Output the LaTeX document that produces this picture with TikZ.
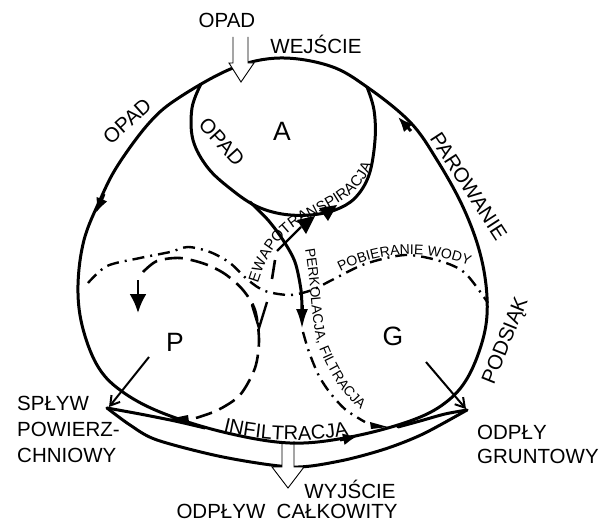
\documentclass[tikz,border=0pt]{standalone}
\usepackage{fontspec}
\setmainfont{Liberation Sans}
\usetikzlibrary{arrows.meta,decorations.text}
\newcommand{\curvefont}{\fontsize{14}{14}\selectfont}
\newcommand{\etfont}{\fontsize{15}{15}\selectfont}
\newcommand{\infifont}{\fontsize{20}{20}\selectfont}
\begin{document}
\begin{tikzpicture}[x=1pt,y=-1pt,
  thickline/.style={line width=3pt, line join=round, line cap=round},
  longdash/.style={line width=2.6pt, dash pattern=on 18pt off 8pt},
  dashdotline/.style={line width=2.4pt, dash pattern=on 12pt off 6pt on 2pt off 6pt},
  hollowline/.style={line width=0.9pt, line join=miter},
  biglabel/.style={font=\fontsize{20.5}{20.5}\selectfont, inner sep=0pt, text height=14.7pt, text depth=0pt},
  letterlabel/.style={font=\fontsize{26.5}{26.5}\selectfont, inner sep=0pt},
  headtip/.style={-{Latex[length=15pt,width=12pt]}, line width=3pt},
  openarrow/.style={-{Straight Barb[length=9pt,width=11pt]}, line width=2pt},
]
\useasboundingbox (0,0) rectangle (602,524);

% outer loop
\draw[thickline] plot[smooth cycle, tension=0.6] coordinates {(280,58) (330,66) (367,87) (410,122) (437,160) (463,207) (480,253) (487,297) (484,335) (468,377) (445,403) (410,421) (350,437) (290,443) (223,432) (160,412) (120,390) (97,365) (82,325) (78,285) (84,240) (100,200) (118,165) (150,122) (180,97) (233,68)};

% A loop lower boundary
\draw[thickline] plot[smooth, tension=0.6] coordinates {(201,84) (192,108) (193,140) (208,168) (232,190) (256,206) (282,214) (310,215) (335,210) (355,198) (369,175) (375,140) (374,110) (367,87)};

% branch to perkolacja
\draw[thickline] plot[smooth] coordinates {(250,202) (268,220) (283,240) (295,262) (301,290) (302,312)};
\coordinate (perkA) at (302,305);
\coordinate (perkB) at (302,329);
\draw[-{Latex[length=20pt,width=12pt]}, line width=3pt] (perkA) -- (perkB);
\draw[dashdotline] plot[smooth] coordinates {(303,332) (309,352) (319,376) (331,394) (346,410) (365,422)};
\fill (370,422) -- (388,427) -- (371,429) -- cycle;

% evapotranspiration stroke and heads
\draw[line width=2.4pt] (277,251) -- (301,227);
\fill (297,220) -- (315,216) -- (306,234) -- cycle;
\fill (319,208) -- (337,205) -- (328,221) -- cycle;

% dash-dot curve (pobieranie wody)
\draw[dashdotline] plot[smooth] coordinates {(88,283) (107,266) (140,258) (170,252) (188,247) (210,252) (230,263) (248,280) (265,291) (290,295) (312,290) (332,280) (365,264) (405,255) (440,261) (465,273) (488,303)};

% dashed P circle
\draw[longdash] plot[smooth] coordinates {(143,272) (157,261) (180,258) (205,264) (225,274) (243,290) (255,310) (259,340) (255,368) (240,395) (218,410) (196,418)};
\fill (169,419) -- (188,415) -- (189,422) -- cycle;
\draw[line width=2.4pt] (252,305) -- (259,328) -- (267,302);
\draw[line width=2.6pt] (275,260) -- (272,279);

% arrow into P
\coordinate (pa1) at (138,280);
\coordinate (pa2) at (138,313);
\draw[-{Latex[length=19pt,width=17pt]}, line width=2.6pt] (pa1) -- (pa2);

% band
\draw[thickline] plot[smooth] coordinates {(107,408) (140,414) (175,421) (205,428)};
\draw[thickline] plot[smooth] coordinates {(467,410) (445,414) (420,421) (398,427)};
\draw[thickline] plot[smooth] coordinates {(107,408) (130,425) (157,440) (223,457) (292,467) (340,461) (385,449) (423,434) (467,410)};

% arrows P -> splyw, G -> odply
\coordinate (ps1) at (149,357);
\coordinate (ps2) at (109,407);
\coordinate (gs1) at (426,362);
\coordinate (gs2) at (466,409);
\draw[openarrow] (ps1) -- (ps2);
\draw[openarrow] (gs1) -- (gs2);

% arrowheads on outer loop
\draw[headtip] (104,194) -- (96,213);
\draw[headtip] (411,131) -- (398,117);
\draw[headtip] (340,440) -- (358,436);

% hollow arrows
\fill[white] (233,37) rectangle (248,64);
\fill[white] (229,63) -- (241,82) -- (254,63) -- cycle;
\draw[hollowline] (233,37) -- (233,63) -- (229,63) -- (241,82) -- (254,63) -- (248,63) -- (248,37);
\fill[white] (282,446) -- (282,467) -- (272,467) -- (288,488) -- (304,467) -- (294,467) -- (294,446) -- cycle;
\draw[hollowline] (282,441) -- (282,467) -- (272,467) -- (288,488) -- (304,467) -- (294,467) -- (294,441);

% labels
\node[biglabel] (opadtop) at (227,20) {OPAD};
\node[biglabel] (wejscie) at (316,46) {WEJŚCIE};
\node[letterlabel] (la) at (282,131) {A};
\node[letterlabel] (lp) at (175,342) {P};
\node[letterlabel] (lg) at (393,336) {G};
\node[biglabel, rotate=42] (opadl) at (127,121) {OPAD};
\node[biglabel, rotate=-48] (opadi) at (222,142) {OPAD};
\node[biglabel, rotate=-57] (parow) at (469,186) {PAROWANIE};
\node[biglabel, rotate=68] (podsiak) at (504,340) {PODSIĄK};
\node[biglabel, anchor=west] (spl1) at (17,403) {SPŁYW};
\node[biglabel, anchor=west] (spl2) at (17,429) {POWIERZ-};
\node[biglabel, anchor=west] (spl3) at (17,455) {CHNIOWY};
\node[biglabel, anchor=west] (odp1) at (477,432) {ODPŁY};
\node[biglabel, anchor=west] (odp2) at (477,456) {GRUNTOWY};
\node[biglabel] (wyj) at (350,491) {WYJŚCIE};
\node[biglabel] (odpc) at (287,511) {ODPŁYW\ \ CAŁKOWITY};

% curved labels
\path[decorate, decoration={text along path, text={|\etfont|EWAPOTRANSPIRACJA}, text align=center}]
  (254,298) .. controls (263,258) and (280,234) .. (306,220) .. controls (334,205) and (368,194) .. (376,150);
\path[decorate, decoration={text along path, text={|\curvefont|PERKOLACJA,{ }FILTRACJA}, text align=center}]
  (304,243) .. controls (313,290) and (310,330) .. (322,355) .. controls (332,378) and (346,400) .. (366,413);
\path[decorate, decoration={text along path, text={|\curvefont|POBIERANIE{ }WODY}, text align=center}]
  (334,275) .. controls (370,254) and (420,245) .. (476,268);
\path[decorate, decoration={text along path, text={|\infifont|INFILTRACJA}, text align=center}]
  (214,429) .. controls (250,440) and (310,445) .. (358,433);
\end{tikzpicture}
\end{document}
